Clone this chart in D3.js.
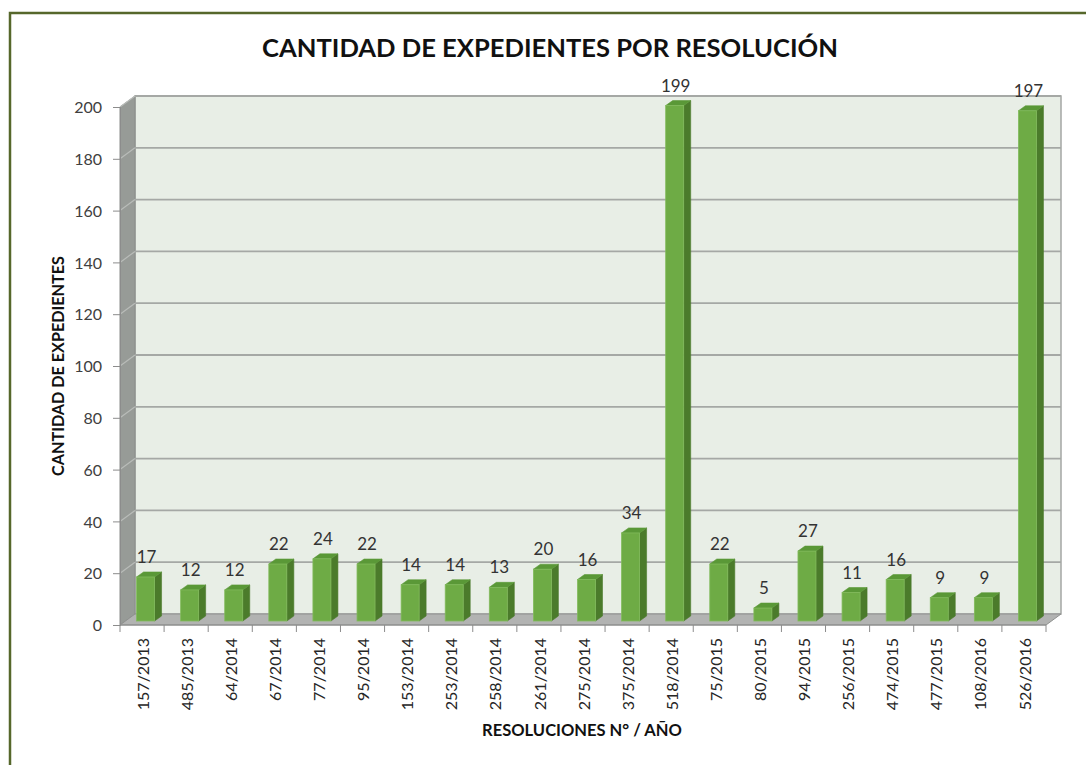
<!DOCTYPE html>
<html>
<head>
<meta charset="utf-8">
<script src="https://cdn.jsdelivr.net/npm/d3@7/dist/d3.min.js"></script>
<style>
  html, body { margin: 0; padding: 0; background: #ffffff; }
  svg { display: block; }
  text { font-family: Lato, "Open Sans", "DejaVu Sans", sans-serif; }
</style>
</head>
<body>
<svg id="chart" width="1086" height="765"></svg>
<script>
// Resolutions (number/year) and the number of case files under each one
const categories = ["157/2013", "485/2013", "64/2014", "67/2014", "77/2014", "95/2014",
  "153/2014", "253/2014", "258/2014", "261/2014", "275/2014", "375/2014", "518/2014",
  "75/2015", "80/2015", "94/2015", "256/2015", "474/2015", "477/2015", "108/2016", "526/2016"];
const values = [17, 12, 12, 22, 24, 22, 14, 14, 13, 20, 16, 34, 199, 22, 5, 27, 11, 16, 9, 9, 197];
const yTicks = [0, 20, 40, 60, 80, 100, 120, 140, 160, 180, 200];

const chartTitle = "CANTIDAD DE EXPEDIENTES POR RESOLUCIÓN";
const yTitle = "CANTIDAD DE EXPEDIENTES";
const xTitle = "RESOLUCIONES N° / AÑO";

const svg = d3.select("#chart");

// frame around the chart
svg.append("rect")
  .attr("x", 10).attr("y", 13).attr("width", 1200).attr("height", 900)
  .attr("fill", "#ffffff").attr("stroke", "#56672b").attr("stroke-width", 2.5);

// front plane scales and the 3D depth offset of the back wall
const x = d3.scaleBand().domain(categories).range([120, 1046]).padding(0);
const y = d3.scaleLinear().domain([0, 200]).range([625, 107]);
const DX = 15, DY = -11;          // wall depth
const BX = 3.5, BY = -4;          // bar front face position inside the depth
const SX = 7, SY = -5;            // bar depth
const barW = 18;

const g = svg.append("g");

// back wall
g.append("rect")
  .attr("x", 120 + DX).attr("y", y(200) + DY)
  .attr("width", 1046 - 120).attr("height", y(0) - y(200))
  .attr("fill", "#e8eee6").attr("stroke", "#a4a6a4").attr("stroke-width", 1.5);

// left side wall
g.append("path")
  .attr("d", `M120,${y(200)} L${120 + DX},${y(200) + DY} L${120 + DX},${y(0) + DY} L120,${y(0)} Z`)
  .attr("fill", "#979b97").attr("stroke", "#8a8d8a").attr("stroke-width", 1);

// gridlines on the back wall and their continuation on the side wall
yTicks.filter(v => v > 0).forEach(v => {
  g.append("line")
    .attr("x1", 120 + DX).attr("x2", 1046 + DX)
    .attr("y1", y(v) + DY).attr("y2", y(v) + DY)
    .attr("stroke", "#a5a8a5").attr("stroke-width", 1.8);
  g.append("line")
    .attr("x1", 120).attr("x2", 120 + DX)
    .attr("y1", y(v)).attr("y2", y(v) + DY)
    .attr("stroke", "#b9bcb9").attr("stroke-width", 1.2);
});

// floor
g.append("path")
  .attr("d", `M120,${y(0)} L1046,${y(0)} L${1046 + DX},${y(0) + DY} L${120 + DX},${y(0) + DY} Z`)
  .attr("fill", "#b2b3b2").attr("stroke", "#8f918f").attr("stroke-width", 1);

// y axis: ticks and labels on the front edge
const yAxis = d3.axisLeft(y).tickValues(yTicks).tickSize(7).tickPadding(11);
const ya = g.append("g").attr("transform", "translate(120,0)").call(yAxis);
ya.select(".domain").attr("stroke", "#8c8c8c").attr("stroke-width", 1);
ya.selectAll(".tick line").attr("stroke", "#8c8c8c");
ya.selectAll(".tick text")
  .attr("fill", "#404040").style("font-size", "16px").style("font-family", "Lato, sans-serif")
  .attr("dy", "0.36em");

// x axis: category ticks at band boundaries, rotated labels
const xa = g.append("g").attr("transform", `translate(0,${y(0)})`);
xa.append("line").attr("x1", 120).attr("x2", 1046).attr("y1", 0).attr("y2", 0)
  .attr("stroke", "#8c8c8c").attr("stroke-width", 1);
categories.concat([null]).forEach((c, i) => {
  const bx = c === null ? x.range()[1] : x(c);
  xa.append("line").attr("x1", bx).attr("x2", bx).attr("y1", 0).attr("y2", 7)
    .attr("stroke", "#8c8c8c").attr("stroke-width", 1);
});
xa.selectAll("text.cat").data(categories).join("text")
  .attr("class", "cat")
  .attr("transform", d => `translate(${x(d) + x.bandwidth() / 2 + 1},13) rotate(-90)`)
  .attr("text-anchor", "end").attr("dy", "0.35em")
  .attr("fill", "#262626").style("font-size", "16px")
  .text(d => d);

// bars with front face, side and top
const bars = g.selectAll("g.bar").data(categories.map((c, i) => ({ c, v: values[i] })))
  .join("g").attr("class", "bar");

bars.each(function (d) {
  const sel = d3.select(this);
  const x0 = x(d.c) + x.bandwidth() / 2 - barW / 2 + BX;
  const x1 = x0 + barW;
  const yb = y(0) + BY;
  const yt = y(d.v) + BY;
  // side
  sel.append("path")
    .attr("d", `M${x1},${yb} L${x1 + SX},${yb + SY} L${x1 + SX},${yt + SY} L${x1},${yt} Z`)
    .attr("fill", "#4b7b2b").attr("stroke", "#4b7b2b").attr("stroke-width", 0.6);
  // top
  sel.append("path")
    .attr("d", `M${x0},${yt} L${x1},${yt} L${x1 + SX},${yt + SY} L${x0 + SX},${yt + SY} Z`)
    .attr("fill", "#5a9837").attr("stroke", "#5a9837").attr("stroke-width", 0.6);
  // front
  sel.append("rect")
    .attr("x", x0).attr("y", yt).attr("width", barW).attr("height", yb - yt)
    .attr("fill", "#6eab45").attr("stroke", "#82bb5c").attr("stroke-width", 0.8);
  // value label
  sel.append("text")
    .attr("x", x0 + barW / 2 + 1).attr("y", yt + SY - 9)
    .attr("text-anchor", "middle")
    .attr("fill", "#333333").style("font-size", "17px")
    .text(d.v);
});

// fit a text element to a target width by adjusting its font size
function fitWidth(sel, width) {
  const n = sel.node();
  const fs = parseFloat(sel.style("font-size"));
  const w = n.getComputedTextLength();
  sel.style("font-size", (fs * width / w).toFixed(2) + "px");
}

// titles
const t = svg.append("text")
  .attr("x", 550).attr("y", 57).attr("text-anchor", "middle")
  .attr("fill", "#111111").style("font-weight", "700").style("font-size", "24px")
  .text(chartTitle);
fitWidth(t, 576);

const yt = svg.append("text")
  .attr("transform", "translate(64,366) rotate(-90)").attr("text-anchor", "middle")
  .attr("fill", "#111111").style("font-weight", "700").style("font-size", "15px")
  .text(yTitle);
fitWidth(yt, 220);

const xt = svg.append("text")
  .attr("x", 582).attr("y", 736).attr("text-anchor", "middle")
  .attr("fill", "#111111").style("font-weight", "700").style("font-size", "15px")
  .text(xTitle);
fitWidth(xt, 200);
</script>
</body>
</html>
